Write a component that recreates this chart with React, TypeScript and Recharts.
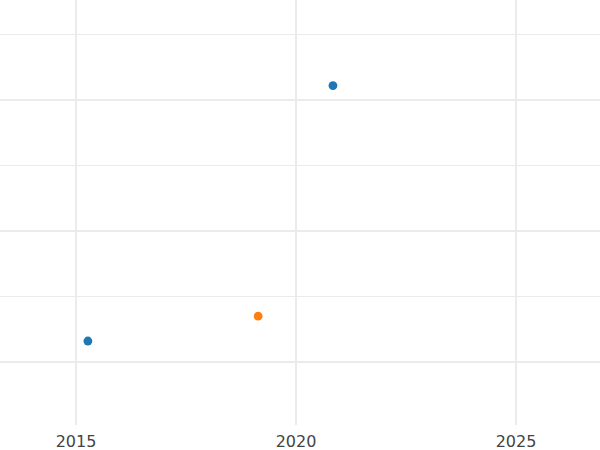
import { ScatterChart, Scatter, XAxis, YAxis, ReferenceLine } from "recharts";

const seriesA = [
    { year: 2020.84, value: 3.11 },
    { year: 2015.27, value: 1.16 },
];
const seriesB = [{ year: 2019.14, value: 1.35 }];

const xTicks = [2015, 2020, 2025];
const yMajor = [1, 2, 3];
const yMinor = [1.5, 2.5, 3.5];

const xDomain = [2013.273, 2026.909];
const yDomain = [0.519, 3.763];

const gridColor = "#ebebeb";

const Dot = (props: any) => {
    const { cx, cy, fill } = props;
    return <circle cx={cx} cy={cy} r={4.4} fill={fill} />;
};

const YearTick = (props: any) => {
    const { x, y, payload } = props;
    return (
        <text
            x={x}
            y={y}
            dy={14}
            textAnchor="middle"
            fill="#444"
            fontSize={16}
            fontFamily="DejaVu Sans"
        >
            {payload.value}
        </text>
    );
};

export default function App() {
    return (
        <div style={{ position: "absolute", left: 0, top: 0, width: 600, height: 450, background: "#fff" }}>
            <ScatterChart
                width={600}
                height={450}
                margin={{ top: 0, right: 0, bottom: 0, left: 0 }}
            >
                <XAxis
                    type="number"
                    dataKey="year"
                    domain={xDomain}
                    ticks={xTicks}
                    allowDataOverflow
                    axisLine={false}
                    tickLine={false}
                    height={25}
                    tick={<YearTick />}
                />
                <YAxis
                    type="number"
                    dataKey="value"
                    domain={yDomain}
                    allowDataOverflow
                    hide
                />
                {yMinor.map((v) => (
                    <ReferenceLine
                        key={"n" + v}
                        segment={[{ x: xDomain[0], y: v }, { x: xDomain[1], y: v }]}
                        stroke={gridColor}
                        strokeWidth={1}
                        ifOverflow="visible"
                    />
                ))}
                {yMajor.map((v) => (
                    <ReferenceLine
                        key={"m" + v}
                        segment={[{ x: xDomain[0], y: v }, { x: xDomain[1], y: v }]}
                        stroke={gridColor}
                        strokeWidth={2}
                        ifOverflow="visible"
                    />
                ))}
                {xTicks.map((v) => (
                    <ReferenceLine
                        key={"x" + v}
                        segment={[{ x: v, y: yDomain[0] }, { x: v, y: yDomain[1] }]}
                        stroke={gridColor}
                        strokeWidth={2}
                        ifOverflow="visible"
                    />
                ))}
                <Scatter data={seriesA} fill="#1f77b4" shape={<Dot />} isAnimationActive={false} />
                <Scatter data={seriesB} fill="#ff7f0e" shape={<Dot />} isAnimationActive={false} />
            </ScatterChart>
        </div>
    );
}
